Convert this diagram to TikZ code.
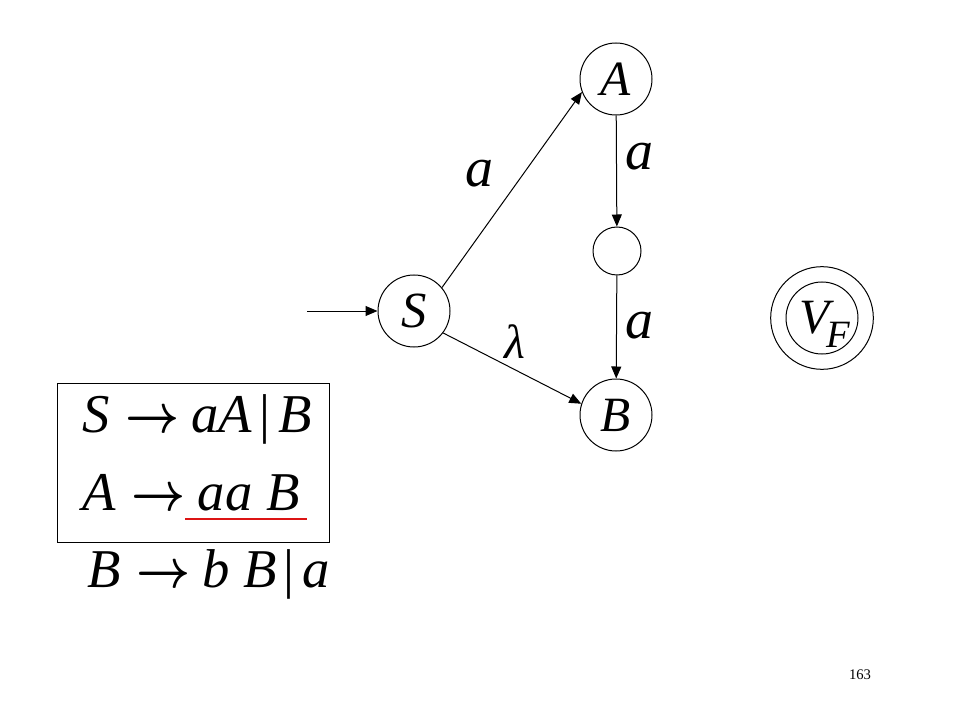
\RequirePackage{fix-cm}
\documentclass[tikz,border=0pt]{standalone}
\usepackage{fontspec}
\setmainfont{Liberation Serif}
\usetikzlibrary{arrows.meta}
\newcommand{\garr}{\hspace{12pt}{\boldmath$\scalebox{0.86}[1]{$\rightarrow$}$}\hspace{9pt}}
\newcommand{\gbar}{\hspace{5pt}|\hspace{6pt}}
\begin{document}
\begin{tikzpicture}[x=0.75pt,y=-0.75pt,
  state/.style={circle,draw,line width=0.75pt,minimum size=54pt,inner sep=0pt},
  smallstate/.style={circle,draw,line width=0.75pt,minimum size=36pt,inner sep=0pt},
  edge/.style={-{Triangle[length=9pt,width=7.5pt]},line width=0.75pt},
  lbl/.style={anchor=base,inner sep=0pt,font=\fontsize{42}{42}\selectfont\itshape},
  gram/.style={anchor=base west,inner sep=0pt,font=\fontsize{41}{41}\selectfont}]
\useasboundingbox (0,0) rectangle (960,720);
% states
\node[state] (S) at (414,311) {\fontsize{38}{38}\selectfont\itshape S};
\node[state] (A) at (616,79) {\fontsize{37}{37}\selectfont\itshape A};
\node[smallstate] (M) at (617,251) {};
\node[state] (B) at (616,415) {\fontsize{37}{37}\selectfont\itshape B};
\node[state] (VF) at (822,318) {};
\node[circle,draw,line width=0.75pt,minimum size=77pt,inner sep=0pt] (VFo) at (VF) {};
\node[anchor=base west,inner sep=0pt,font=\fontsize{37}{37}\selectfont\itshape] (Vt) at (799,334) {V};
\node[anchor=base west,inner sep=0pt,font=\fontsize{29}{29}\selectfont\itshape] (Ft) at (826,347) {F};
% edges
\coordinate (start) at (307,311);
\draw[edge] (start) -- (S);
\draw[edge] (S.40) -- (A.201);
\draw[edge] (S.-37) -- (B.162);
\draw[edge] (A) -- (M);
\draw[edge] (M) -- (B);
% labels
\node[lbl] (la1) at (479,187) {a};
\node[lbl] (la2) at (639,170) {a};
\node[lbl] (la3) at (639,338) {a};
\node[lbl,font=\fontsize{36}{36}\selectfont\itshape] (llam) at (515,358) {λ};
% grammar
\node[draw,line width=0.75pt,minimum width=204pt,minimum height=119.25pt,inner sep=0pt] (box) at (193,462.5) {};
\node[gram] (g1) at (82,432) {\textit{S}\garr\textit{aA}\gbar\textit{B}};
\node[gram] (g2) at (82,510) {\textit{A}\garr\textit{aa B}};
\node[gram] (g3) at (87,587) {\textit{B}\garr\textit{b B}\gbar\textit{a}};
\coordinate (u1) at (185,519);
\coordinate (u2) at (307,519);
\draw[color={rgb,255:red,220;green,20;blue,20},line width=2.2pt] (u1) -- (u2);
% page number
\node[inner sep=0pt,font=\fontsize{11}{11}\selectfont] (pg) at (860,675) {163};
\end{tikzpicture}
\end{document}
